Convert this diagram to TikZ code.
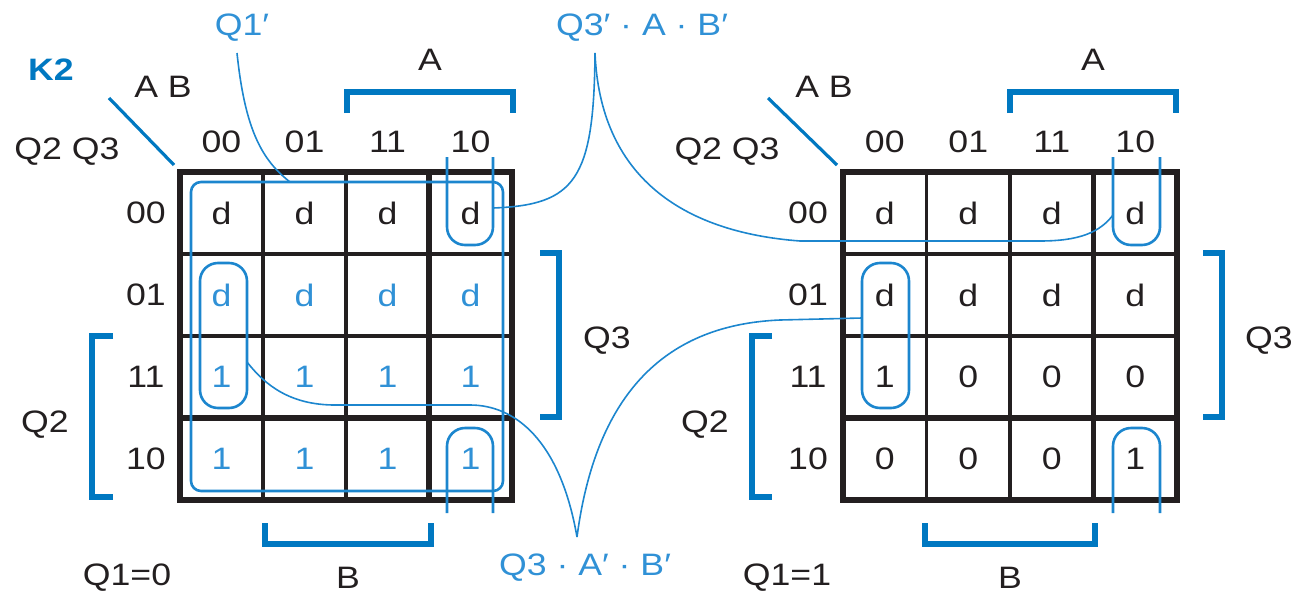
\documentclass[tikz,border=0pt]{standalone}
\usepackage{fontspec}
\setmainfont[FakeStretch=1.15]{Liberation Sans}
\definecolor{kblue}{RGB}{0,120,193}
\definecolor{lblue}{RGB}{28,134,206}
\definecolor{tblue}{RGB}{48,145,214}
\definecolor{gridc}{RGB}{35,31,32}
\begin{document}
\begin{tikzpicture}[x=0.5pt,y=-0.5pt,
  font=\fontsize{15.5}{18}\selectfont,
  lbl/.style={inner sep=0pt, text=gridc},
  blbl/.style={inner sep=0pt, text=tblue},
  gridthin/.style={line width=1.8pt, draw=gridc},
  gridthick/.style={line width=2.7pt, draw=gridc},
  bracket/.style={line width=3pt, draw=kblue, line join=miter},
  diag/.style={line width=1.6pt, draw=kblue},
  kloop/.style={line width=1.3pt, draw=lblue, rounded corners=9pt},
  conn/.style={line width=0.8pt, draw=lblue},
]
\useasboundingbox (0,0) rectangle (1294,594);

% ---------------- left map grid ----------------
\foreach \i in {1,2} {
  \draw[gridthin] ({180+83*\i},172) -- ({180+83*\i},500);
  \draw[gridthin] (180,{172+82*\i}) -- (512,{172+82*\i});
}
\draw[gridthick] (429,172) -- (429,500);
\draw[gridthick] (180,418) -- (512,418);
\draw[gridthick] (180,172) rectangle (512,500);

% ---------------- right map grid ----------------
\foreach \i in {1,2} {
  \draw[gridthin] ({843+83.5*\i},172) -- ({843+83.5*\i},500);
  \draw[gridthin] (843,{172+82*\i}) -- (1177,{172+82*\i});
}
\draw[gridthick] (1093.5,172) -- (1093.5,500);
\draw[gridthick] (843,418) -- (1177,418);
\draw[gridthick] (843,172) rectangle (1177,500);

% ---------------- left map cells ----------------
\foreach \v [count=\c] in {d,d,d,d}
  \node[lbl] (L1\c) at ({180+83*(\c-0.5)},213) {\v};
\foreach \v [count=\c] in {d,d,d,d}
  \node[blbl] (L2\c) at ({180+83*(\c-0.5)},295) {\v};
\foreach \v [count=\c] in {1,1,1,1}
  \node[blbl] (L3\c) at ({180+83*(\c-0.5)},377) {\v};
\foreach \v [count=\c] in {1,1,1,1}
  \node[blbl] (L4\c) at ({180+83*(\c-0.5)},459) {\v};

% ---------------- right map cells ----------------
\foreach \v [count=\c] in {d,d,d,d}
  \node[lbl] (R1\c) at ({843+83.5*(\c-0.5)},213) {\v};
\foreach \v [count=\c] in {d,d,d,d}
  \node[lbl] (R2\c) at ({843+83.5*(\c-0.5)},295) {\v};
\foreach \v [count=\c] in {1,0,0,0}
  \node[lbl] (R3\c) at ({843+83.5*(\c-0.5)},377) {\v};
\foreach \v [count=\c] in {0,0,0,1}
  \node[lbl] (R4\c) at ({843+83.5*(\c-0.5)},459) {\v};

% ---------------- headers left ----------------
\foreach \v [count=\c] in {00,01,11,10}
  \node[lbl] (LC\c) at ({180+83*(\c-0.5)},142) {\v};
\foreach \v [count=\r] in {00,01,11,10}
  \node[lbl] (LR\r) at (146,{172+82*(\r-0.5)}) {\v};
\node[lbl] (lAB) at (163,87) {A B};
\node[lbl] (lQQ) at (67,152) {Q2 Q3};
\draw[diag] (109,98) -- (174,165);
\node[inner sep=0pt, text=kblue, font=\fontsize{15.5}{18}\selectfont\bfseries] (k2) at (51,70) {K2};

% ---------------- headers right ----------------
\foreach \v [count=\c] in {00,01,11,10}
  \node[lbl] (RC\c) at ({843+83.5*(\c-0.5)},142) {\v};
\foreach \v [count=\r] in {00,01,11,10}
  \node[lbl] (RR\r) at (808,{172+82*(\r-0.5)}) {\v};
\node[lbl] (rAB) at (824,87) {A B};
\node[lbl] (rQQ) at (727,152) {Q2 Q3};
\draw[diag] (768,98) -- (837,165);

% ---------------- brackets left ----------------
\draw[bracket] (347,113) -- (347,92) -- (513,92) -- (513,113);
\node[lbl] (lA) at (430,60) {A};
\draw[bracket] (540,253) -- (559,253) -- (559,417) -- (540,417);
\node[lbl] (lQ3) at (607,341) {Q3};
\draw[bracket] (113,336) -- (92,336) -- (92,497) -- (113,497);
\node[lbl] (lQ2) at (45,425) {Q2};
\draw[bracket] (265,523) -- (265,544) -- (431,544) -- (431,523);
\node[lbl] (lB) at (348,578) {B};
\node[lbl] (lQ1) at (127,578) {Q1=0};

% ---------------- brackets right ----------------
\draw[bracket] (1010,113) -- (1010,92) -- (1176,92) -- (1176,113);
\node[lbl] (rA) at (1093,60) {A};
\draw[bracket] (1203,253) -- (1222,253) -- (1222,417) -- (1203,417);
\node[lbl] (rQ3) at (1269,341) {Q3};
\draw[bracket] (772,336) -- (752,336) -- (752,497) -- (772,497);
\node[lbl] (rQ2) at (705,425) {Q2};
\draw[bracket] (925,523) -- (925,544) -- (1095,544) -- (1095,523);
\node[lbl] (rB) at (1010,578) {B};
\node[lbl] (rQ1) at (787,578) {Q1=1};

% ---------------- loops left ----------------
\draw[kloop, rounded corners=5pt] (191,182) rectangle (503,491);
\draw[kloop] (200,263) rectangle (247,408);
\draw[kloop] (447,157) -- (447,245) -- (493,245) -- (493,157);
\draw[kloop] (447,513) -- (447,428) -- (493,428) -- (493,513);

% ---------------- loops right ----------------
\draw[kloop] (862,263) rectangle (909,408);
\draw[kloop] (1113,157) -- (1113,245) -- (1160,245) -- (1160,157);
\draw[kloop] (1113,513) -- (1113,428) -- (1160,428) -- (1160,513);

% ---------------- labels of groups ----------------
\node[blbl] (gQ1) at (242,28) {Q1′};
\node[blbl] (gA) at (642,28) {Q3′ · A · B′};
\node[blbl] (gB) at (585,568) {Q3 · A′ · B′};

\coordinate (q1tip) at (237,53);
\coordinate (q1end) at (290,182);
\coordinate (atip) at (595,53);
\coordinate (aend1) at (493,208);
\coordinate (aend2) at (1113,215);
\coordinate (btip) at (577,537);
\coordinate (bend1) at (247,362);
\coordinate (bend2) at (862,318);

\draw[conn] (q1tip) .. controls (245,130) and (262,160) .. (q1end);
\draw[conn] (atip) .. controls (594,180) and (575,205) .. (aend1);
\draw[conn] (atip) .. controls (600,175) and (680,232) .. (800,241)
  -- (1040,241) .. controls (1080,241) and (1100,232) .. (aend2);
\draw[conn] (btip) .. controls (560,440) and (515,405) .. (470,405)
  -- (335,405) .. controls (290,405) and (265,385) .. (bend1);
\draw[conn] (btip) .. controls (595,400) and (660,325) .. (780,320) -- (bend2);
\end{tikzpicture}
\end{document}
